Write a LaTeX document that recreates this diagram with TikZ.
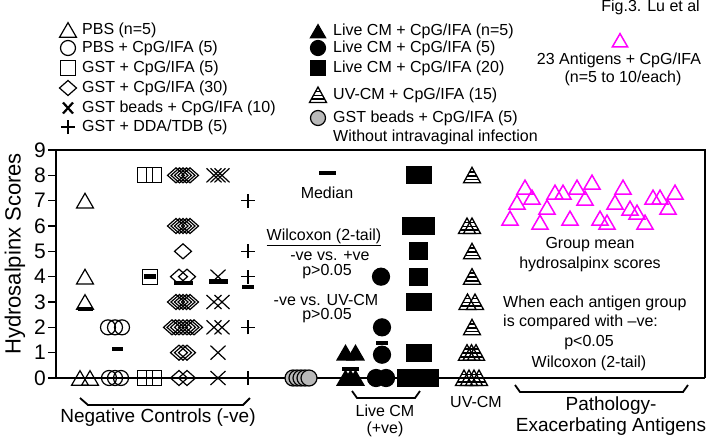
\documentclass[tikz,border=0pt]{standalone}
\usepackage{fontspec}
\setmainfont{Liberation Sans}
\usetikzlibrary{shapes.geometric, shapes.misc}
\definecolor{antmag}{RGB}{255,0,255}
\definecolor{beadgray}{RGB}{185,185,185}

\begin{document}
\begin{tikzpicture}[
    x=1pt, y=-1pt,
    sym/.style={inner sep=0pt, outer sep=0pt, line width=1.2pt},
    optri/.style={sym, regular polygon, regular polygon sides=3, draw, minimum size=19.5pt, yshift=-2.4pt},
    fltri/.style={optri, fill=black},
    opcirc/.style={sym, circle, draw, minimum size=15pt},
    flcirc/.style={sym, circle, draw, fill=black, minimum size=17pt},
    beadcirc/.style={sym, circle, draw, fill=beadgray, minimum size=16pt},
    opsq/.style={sym, rectangle, draw, minimum size=15pt},
    flsq/.style={sym, rectangle, draw, fill=black, minimum size=17pt},
    opdia/.style={sym, diamond, draw, minimum width=17pt, minimum height=15pt},
    xmark/.style={sym, cross out, draw, minimum width=15pt, minimum height=14pt},
    plusmark/.style={sym, cross out, draw, rotate=45, minimum size=10pt},
    agtri/.style={optri, draw=antmag, line width=1.5pt, minimum size=18.5pt},
    medbar/.style={rectangle, fill=black, inner sep=0pt, minimum width=15pt, minimum height=4.5pt},
    txt/.style={font=\fontsize{16}{18}\selectfont, inner sep=0pt},
    bigtxt/.style={font=\fontsize{19}{23}\selectfont, inner sep=0pt},
    brace/.style={line width=1.8pt},
    uvtri/.pic={
        \draw[line width=1.3pt] (-8.5pt,-7.5pt) -- (0pt,8pt) -- (8.5pt,-7.5pt) -- cycle;
        \draw[line width=1.6pt] (-2.5pt,3.5pt) -- (2.5pt,3.5pt)
            (-4.7pt,-0.5pt) -- (4.7pt,-0.5pt)
            (-6.7pt,-4.2pt) -- (6.7pt,-4.2pt);
    }
]
\useasboundingbox (0,0) rectangle (708,439);

% Legend, left column
\node[optri] (keypbs) at (68,30) {};
\node[opcirc] (keypbscpg) at (68,48) {};
\node[opsq] (keygst) at (68,68) {};
\node[opdia] (keygstdia) at (68,88) {};
\node[xmark, line width=2.2pt, minimum width=10pt, minimum height=11pt] (keybeads) at (68,108) {};
\node[plusmark, line width=2pt, minimum size=10pt] (keydda) at (68,127) {};
\node[txt, anchor=west] at (82,30) {PBS (n=5)};
\node[txt, anchor=west] at (82,48) {PBS + CpG/IFA (5)};
\node[txt, anchor=west] at (82,68) {GST + CpG/IFA (5)};
\node[txt, anchor=west] at (82,88) {GST + CpG/IFA (30)};
\node[txt, anchor=west] at (82,108) {GST beads + CpG/IFA (10)};
\node[txt, anchor=west] at (82,127) {GST + DDA/TDB (5)};

% Legend, middle column
\node[fltri, minimum size=17.5pt] (keylivetri) at (318,31) {};
\node[flcirc, minimum size=15pt] (keylivecirc) at (318,48) {};
\node[flsq, minimum size=15pt] (keylivesq) at (318,68) {};
\pic at (318,95) {uvtri};
\node[beadcirc, minimum size=15pt] (keybeadsgray) at (318,118) {};
\node[txt, anchor=west] at (333,31) {Live CM + CpG/IFA (n=5)};
\node[txt, anchor=west] at (333,48) {Live CM + CpG/IFA (5)};
\node[txt, anchor=west] at (333,68) {Live CM + CpG/IFA (20)};
\node[txt, anchor=west] at (333,95) {UV-CM + CpG/IFA (15)};
\node[txt, anchor=west] at (333,118) {GST beads + CpG/IFA (5)};
\node[txt, anchor=west] at (333,137) {Without intravaginal infection};

% Legend, right
\node[txt, anchor=east] (figlbl) at (700,7) {Fig.3. Lu et al};
\node[agtri, minimum size=17.5pt] (keyag) at (620,40) {};
\node[txt] (agtxt1) at (619,60) {23 Antigens + CpG/IFA};
\node[txt] (agtxt2) at (623,78) {(n=5 to 10/each)};

% Frame and axis
\draw[line width=1.8pt] (56,150) -- (705,150) -- (705,378);
\node[rotate=90, font=\fontsize{22}{26}\selectfont, inner sep=0pt] (ylab) at (15,254) {Hydrosalpinx Scores};

\begin{scope}[shift={(0,378)}, y=25.333pt]
  \draw[line width=1.5pt] (56,0) -- (56,9);
  \draw[line width=1.5pt] (56,0) -- (705,0);
  \foreach \v in {0,...,9} {
    \draw[line width=1.3pt] (48,\v) -- (56,\v);
    \node[anchor=east, font=\fontsize{21}{24}\selectfont, inner sep=0pt] (tick\v) at (46,\v) {\v};
  }

  % Negative controls
  \foreach \x/\v [count=\i] in {85/7, 85/4, 85/3, 80/0, 90/0}
    \node[optri] (pbs\i) at (\x,\v) {};
  \node[medbar] (pbsmed) at (85,2.72) {};

  \foreach \x/\v [count=\i] in {108/2, 115/2, 122/2, 109/0, 115/0, 121/0}
    \node[opcirc] (pbscpg\i) at (\x,\v) {};
  \node[medbar, minimum width=11pt] (pbscpgmed) at (117,1.14) {};

  \foreach \x/\v [count=\i] in {145/8, 154/8, 150/4, 145/0, 154/0}
    \node[opsq] (gst\i) at (\x,\v) {};
  \node[medbar, minimum width=12pt] (gstmed) at (150,4) {};

  \foreach \x/\v [count=\i] in {176/8, 179.5/8, 183/8, 186.5/8, 190/8,
      176/6, 179.5/6, 183/6, 186.5/6, 190/6, 183/5, 179/4, 187/4,
      176/3, 179.5/3, 183/3, 186.5/3, 190/3,
      172/2, 175.5/2, 179/2, 183/2, 187/2, 190.5/2, 194/2,
      179/1, 183/1, 187/1, 179/0, 187/0}
    \node[opdia] (gstdia\i) at (\x,\v) {};
  \node[medbar, minimum width=19pt] (gstdiamed) at (183,3.75) {};

  \foreach \x/\v [count=\i] in {214/8, 218/8, 222/8, 218/4, 214/3, 222/3,
      214/2, 222/2, 218/1, 218/0}
    \node[xmark] (beads\i) at (\x,\v) {};
  \node[medbar, minimum width=19pt] (beadsmed) at (218,3.8) {};

  \foreach \v [count=\i] in {7, 5, 4, 2, 0}
    \node[plusmark] (dda\i) at (248,\v) {};
  \node[medbar, minimum width=12pt] (ddamed) at (248,3.6) {};

  % Beads without infection
  \foreach \x [count=\i] in {293, 297, 301, 305, 309}
    \node[beadcirc] (gray\i) at (\x,0) {};

  % Live CM
  \foreach \x/\v [count=\i] in {345.5/1, 355.5/1, 345.5/0, 350.5/0, 355.5/0}
    \node[fltri] (livetri\i) at (\x,\v) {};
  \node[medbar, minimum width=17pt] (livetrimed) at (350.5,0.36) {};

  \foreach \x/\v [count=\i] in {381/4, 382/2, 382/0.92, 376/0, 386/0}
    \node[flcirc] (livecirc\i) at (\x,\v) {};
  \node[medbar, minimum width=12pt] (livecircmed) at (382,1.38) {};

  \foreach \x/\v [count=\i] in {415.5/8, 422.5/8, 411.5/6, 418.5/6, 425.5/6,
      418.5/5, 418.5/4, 415.5/3, 422.5/3, 415.5/1, 422.5/1,
      406.5/0, 409.4/0, 412.3/0, 415.1/0, 418/0, 420.9/0, 423.8/0, 426.6/0, 429.5/0}
    \node[flsq] (livesq\i) at (\x,\v) {};

  % UV-CM
  \foreach \x/\v in {472/8, 467/6, 472/6, 472/5, 472/4, 467.5/3, 475/3,
      472/2, 467/1, 471.5/1, 476/1, 464/0, 469/0, 474/0, 479/0}
    \pic at (\x,\v) {uvtri};
\end{scope}

% Antigen group means
\foreach \x/\y [count=\i] in {510/218, 517/202, 525/187, 532/197, 540/222, 547/207,
    555/192, 563/192, 570/218, 577/187, 585/198, 592/182, 600/218, 607/222,
    615/202, 623/187, 630/208, 637/212, 645/222, 653/197, 660/197, 668/207, 675/192}
  \node[agtri] (ag\i) at (\x,\y) {};

% Plot annotations
\node[medbar, minimum width=17pt] (medkey) at (327,173) {};
\node[txt] (medtxt) at (327,193) {Median};
\node[txt] (wil) at (324,237) {\underline{Wilcoxon (2-tail)}};
\node[txt] (wil1) at (330,256) {-ve vs. +ve};
\node[txt] (wil2) at (327,272) {p>0.05};
\node[txt] (wil3) at (326,300) {-ve vs. UV-CM};
\node[txt] (wil4) at (327,316) {p>0.05};

\node[txt] (grp1) at (590,245) {Group mean};
\node[txt] (grp2) at (590,264) {hydrosalpinx scores};
\node[txt, anchor=west] (cmp1) at (503,303) {When each antigen group};
\node[txt, anchor=west] (cmp2) at (503,322) {is compared with –ve:};
\node[txt] (cmp3) at (589,343) {p<0.05};
\node[txt] (cmp4) at (589,363) {Wilcoxon (2-tail)};

% Group brackets
\draw[brace] (80,398) -- (88,405) -- (243,405) -- (250,398);
\node[bigtxt] (negtxt) at (158,418) {Negative Controls (-ve)};
\draw[brace] (352,391) -- (357,398) -- (415,398) -- (420,391);
\node[txt, align=center, font=\fontsize{16}{16.5}\selectfont] (livetxt) at (385,421) {Live CM\\(+ve)};
\node[txt] (uvtxt) at (476,402) {UV-CM};
\draw[brace] (515,385) -- (520,392) -- (683,392) -- (688,385);
\node[bigtxt] (pathtxt1) at (611,406) {Pathology-};
\node[bigtxt] (pathtxt2) at (611,427) {Exacerbating Antigens};

\end{tikzpicture}
\end{document}
